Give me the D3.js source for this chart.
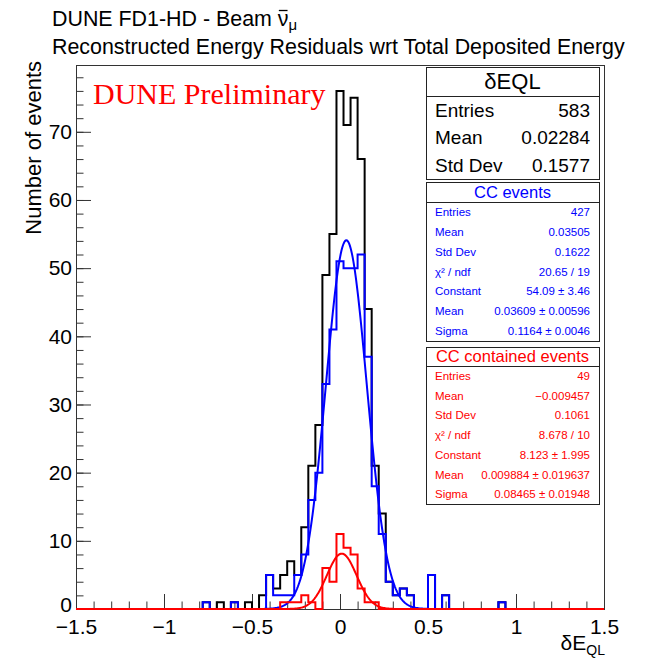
<!DOCTYPE html>
<html>
<head>
<meta charset="utf-8">
<script src="https://cdn.jsdelivr.net/npm/d3@7"></script>
<style>
  body { margin: 0; background: #fff; }
  svg { display: block; font-family: "Liberation Sans", Arial, Helvetica, sans-serif; }
</style>
</head>
<body>
<svg id="chart" width="649" height="659"></svg>
<script>
// binning of the three histograms: 75 bins between -1.5 and 1.5
const xLow = -1.5, xHigh = 1.5, nBins = 75;

// all events (black)
const allEvents = [
  0,0,0,0,0,0,0,0,0,0,0,0,0,0,0,
  0,0,0,1,0,1,0,1,0,1,0,2,5,3,5,
  7,5,12,21,27,49,55,76,71,75,66,44,21,14,4,
  2,3,2,0,0,5,0,2,0,0,0,0,0,0,0,
  1,0,0,0,0,0,0,0,0,0,0,0,0,0,0
];
// CC events (blue)
const ccEvents = [
  0,0,0,0,0,0,0,0,0,0,0,0,0,0,0,
  0,0,0,1,0,0,0,1,0,0,0,0,5,2,2,
  2,5,8,16,20,33,41,51,50,50,52,37,18,11,4,
  2,3,2,0,0,5,0,2,0,0,0,0,0,0,0,
  1,0,0,0,0,0,0,0,0,0,0,0,0,0,0
];
// CC contained events (red)
const containedEvents = [
  0,0,0,0,0,0,0,0,0,0,0,0,0,0,0,
  0,0,0,0,0,0,0,0,0,0,0,0,0,0,1,
  1,1,2,1,0,6,4,11,9,8,3,1,1,0,0,
  0,0,0,0,0,0,0,0,0,0,0,0,0,0,0,
  0,0,0,0,0,0,0,0,0,0,0,0,0,0,0
];

// gaussian fit parameters: constant, mean, sigma
const ccFit = [54.09, 0.03609, 0.1164];
const containedFit = [8.123, 0.009884, 0.08465];

const xTicks = [-1.5, -1, -0.5, 0, 0.5, 1, 1.5];
const yTicks = [0, 10, 20, 30, 40, 50, 60, 70];

const statsAll = [["Entries", "583"], ["Mean", "0.02284"], ["Std Dev", "0.1577"]];
const statsCC = [["Entries", "427"], ["Mean", "0.03505"], ["Std Dev", "0.1622"],
  ["χ² / ndf", "20.65 / 19"], ["Constant", "54.09 ± 3.46"],
  ["Mean", "0.03609 ± 0.00596"], ["Sigma", "0.1164 ± 0.0046"]];
const statsContained = [["Entries", "49"], ["Mean", "−0.009457"], ["Std Dev", "0.1061"],
  ["χ² / ndf", "8.678 / 10"], ["Constant", "8.123 ± 1.995"],
  ["Mean", "0.009884 ± 0.019637"], ["Sigma", "0.08465 ± 0.01948"]];

const frame = {left: 76, right: 604, top: 65, bottom: 609};
const svg = d3.select("#chart");

const x = d3.scaleLinear().domain([xLow, xHigh]).range([frame.left, frame.right]);
const y = d3.scaleLinear().domain([0, 1.05 * d3.max(allEvents)]).range([frame.bottom, frame.top]);
const binW = (xHigh - xLow) / nBins;

svg.append("clipPath").attr("id", "clip")
  .append("rect")
  .attr("x", frame.left).attr("y", frame.top - 2)
  .attr("width", frame.right - frame.left).attr("height", frame.bottom - frame.top + 4);

// titles
const t1 = svg.append("text").attr("x", 52).attr("y", 26).attr("font-size", 21.4);
t1.append("tspan").text("DUNE FD1-HD - Beam ");
t1.append("tspan").text("ν");
t1.append("tspan").attr("font-size", 15).attr("dy", 4).text("μ");
// bar over the nu
const nuStart = t1.node().getSubStringLength(0, 19);
const nuW = t1.node().getSubStringLength(19, 1);
svg.append("line")
  .attr("x1", 52 + nuStart + 1).attr("x2", 52 + nuStart + nuW - 1)
  .attr("y1", 10.5).attr("y2", 10.5)
  .attr("stroke", "#000").attr("stroke-width", 1.3);

svg.append("text").attr("x", 52).attr("y", 54).attr("font-size", 21.4)
  .text("Reconstructed Energy Residuals wrt Total Deposited Energy");

// axes: major and minor ticks point inwards
const xAxisG = svg.append("g").attr("transform", `translate(0,${frame.bottom})`);
xAxisG.append("g")
  .call(d3.axisBottom(x).tickValues(d3.range(-15, 16).map(d => d / 10)).tickSize(-7.5).tickFormat(""));
xAxisG.append("g")
  .call(d3.axisBottom(x).tickValues(xTicks).tickSize(-15).tickPadding(10).tickFormat(d3.format("")));

const yAxisG = svg.append("g").attr("transform", `translate(${frame.left},0)`);
yAxisG.append("g")
  .call(d3.axisLeft(y).tickValues(d3.range(0, 80, 2)).tickSize(-7.5).tickFormat(""));
yAxisG.append("g")
  .call(d3.axisLeft(y).tickValues(yTicks).tickSize(-15).tickPadding(4));

svg.selectAll(".domain").remove();
svg.selectAll(".tick line").attr("stroke", "#333");
svg.selectAll(".tick text").attr("font-size", 21).attr("fill", "#000")
  .attr("font-family", "Liberation Sans, Arial, sans-serif");
// ROOT lifts the zero label of the y axis a little
yAxisG.selectAll(".tick text").filter(d => d === 0).attr("dy", "0.14em");

// frame
svg.append("rect")
  .attr("x", frame.left + 0.5).attr("y", frame.top + 0.5)
  .attr("width", frame.right - frame.left).attr("height", frame.bottom - frame.top)
  .attr("fill", "none").attr("stroke", "#333").attr("stroke-width", 1);

// axis titles
svg.append("text")
  .attr("transform", `translate(41,61) rotate(-90)`)
  .attr("text-anchor", "end").attr("font-size", 22)
  .text("Number of events");
const xt = svg.append("text").attr("x", 605).attr("y", 650).attr("text-anchor", "end").attr("font-size", 21);
xt.append("tspan").text("δE");
xt.append("tspan").attr("font-size", 14).attr("dy", 5).text("QL");

// step outline the way ROOT draws a histogram
function stepPoints(counts) {
  const pts = [[xLow, 0]];
  counts.forEach((c, i) => {
    pts.push([xLow + i * binW, c]);
    pts.push([xLow + (i + 1) * binW, c]);
  });
  pts.push([xHigh, 0]);
  return pts;
}
const line = d3.line().x(d => x(d[0])).y(d => y(d[1]));
const gaus = (p, v) => p[0] * Math.exp(-0.5 * Math.pow((v - p[1]) / p[2], 2));
const fitPoints = p => d3.range(-1.5, 1.5001, 0.004).map(v => [v, gaus(p, v)]);

const plot = svg.append("g").attr("clip-path", "url(#clip)");
function drawHist(counts, color) {
  plot.append("path").attr("d", line(stepPoints(counts)))
    .attr("fill", "none").attr("stroke", color).attr("stroke-width", 2);
}
function drawFit(p, color) {
  plot.append("path").attr("d", line(fitPoints(p)))
    .attr("fill", "none").attr("stroke", color).attr("stroke-width", 2);
}
drawHist(allEvents, "#000");
drawHist(ccEvents, "#0000ff");
drawFit(ccFit, "#0000ff");
drawHist(containedEvents, "#ff0000");
drawFit(containedFit, "#ff0000");

// watermark
svg.append("text").attr("x", 93).attr("y", 104)
  .attr("font-family", "Liberation Serif, Times New Roman, serif")
  .attr("font-size", 30).attr("fill", "#ff0000")
  .text("DUNE Preliminary");

// stats boxes
function statsBox(box, title, rows, color, titleSize, rowSize) {
  const g = svg.append("g");
  g.append("rect").attr("x", box.x + 0.5).attr("y", box.y + 0.5)
    .attr("width", box.w).attr("height", box.h)
    .attr("fill", "#fff").attr("stroke", "#222");
  const titleH = box.titleH;
  g.append("line").attr("x1", box.x).attr("x2", box.x + box.w)
    .attr("y1", box.y + titleH + 0.5).attr("y2", box.y + titleH + 0.5).attr("stroke", "#222");
  g.append("text").attr("x", box.x + box.w / 2).attr("y", box.y + titleH / 2)
    .attr("dy", "0.36em").attr("text-anchor", "middle")
    .attr("font-size", titleSize).attr("fill", color).text(title);
  const rowH = (box.h - titleH) / rows.length;
  rows.forEach((r, i) => {
    const cy = box.y + titleH + rowH * (i + 0.5);
    g.append("text").attr("x", box.x + 9).attr("y", cy).attr("dy", "0.36em")
      .attr("font-size", rowSize).attr("fill", color).text(r[0]);
    g.append("text").attr("x", box.x + box.w - 9).attr("y", cy).attr("dy", "0.36em")
      .attr("text-anchor", "end").attr("font-size", rowSize).attr("fill", color).text(r[1]);
  });
}
statsBox({x: 426, y: 67, w: 173, h: 112, titleH: 29}, "δEQL", statsAll, "#000", 22, 19);
statsBox({x: 426, y: 182, w: 173, h: 159, titleH: 20}, "CC events", statsCC, "#0000ff", 16.5, 11.5);
statsBox({x: 426, y: 347, w: 173, h: 157, titleH: 19}, "CC contained events", statsContained, "#ff0000", 16.5, 11.5);
</script>
</body>
</html>
